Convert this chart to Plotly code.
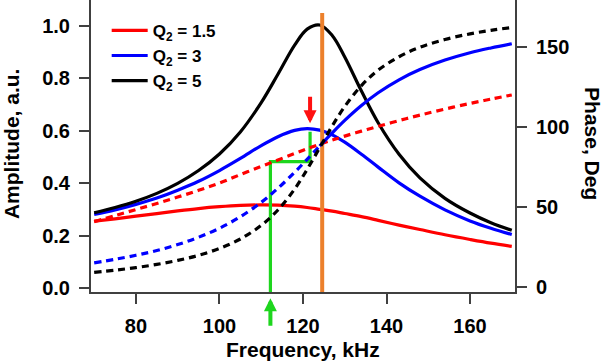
import plotly.graph_objects as go

# ---- data ----
FREQ = [70, 75, 80, 85, 90, 95, 100, 105, 110, 114, 118, 121, 124, 127,
        130, 134, 138, 143, 148, 154, 160, 165, 170]

AMP_Q15 = [0.256, 0.265, 0.275, 0.285, 0.295, 0.304, 0.311, 0.316, 0.318, 0.317,
           0.313, 0.308, 0.301, 0.294, 0.285, 0.273, 0.259, 0.241, 0.224, 0.204,
           0.186, 0.172, 0.160]
AMP_Q3 = [0.282, 0.299, 0.320, 0.344, 0.374, 0.408, 0.449, 0.495, 0.544, 0.578,
          0.602, 0.609, 0.603, 0.585, 0.557, 0.511, 0.462, 0.402, 0.351, 0.299,
          0.257, 0.229, 0.205]
AMP_Q5 = [0.288, 0.308, 0.332, 0.362, 0.400, 0.449, 0.512, 0.596, 0.708, 0.816,
          0.927, 0.988, 1.004, 0.964, 0.882, 0.752, 0.631, 0.511, 0.421, 0.343,
          0.287, 0.250, 0.221]

PH_Q15 = [41.0, 44.8, 48.6, 52.4, 56.4, 60.6, 65.2, 70.4, 75.6, 79.6, 83.6, 86.6,
          89.4, 92.0, 94.5, 97.6, 100.6, 104.2, 107.6, 111.4, 114.9, 117.6, 120.2]
PH_Q3 = [15.3, 17.5, 20.0, 23.0, 26.7, 31.3, 36.9, 44.1, 53.1, 61.9, 71.9, 80.0,
         88.3, 96.5, 104.3, 113.6, 121.6, 129.7, 136.1, 142.0, 146.6, 149.6, 152.2]
PH_Q5 = [9.3, 10.7, 12.3, 14.3, 16.8, 20.0, 24.3, 30.2, 38.7, 48.3, 61.4, 73.7,
         87.2, 100.8, 113.0, 126.1, 135.7, 144.1, 150.0, 154.9, 158.4, 160.6, 162.4]

LABELS = ["Q<sub>2</sub> = 1.5", "Q<sub>2</sub> = 3", "Q<sub>2</sub> = 5"]
COLORS = ["#ff0000", "#0000ff", "#000000"]

# blue phase: dashed below resonance, solid above
BLUE_SPLIT = 124

# markers
ORANGE_F = 124.6
ORANGE_Y = [-0.05, 1.05]
GREEN_F = [112.2, 112.2, 121.7, 121.7]
GREEN_Y = [-0.05, 0.483, 0.483, 0.597]
RED_ARROW = (121.7, 0.629)
GREEN_ARROW_F = 112.2

X_RANGE = [69.24, 170.77]
Y_RANGE = [-0.0141, 1.0991]
Y2_RANGE = [-2.94, 179.56]

FONT = "Liberation Sans"
DASH = "7px,5px"
LW = 3.2

fig = go.Figure()

# dashed phase curves (right axis)
i_split = FREQ.index(BLUE_SPLIT)
fig.add_trace(go.Scatter(x=FREQ, y=PH_Q15, yaxis="y2", mode="lines", showlegend=False,
                         line=dict(color=COLORS[0], width=LW, dash=DASH, shape="spline")))
fig.add_trace(go.Scatter(x=FREQ[:i_split + 1], y=PH_Q3[:i_split + 1], yaxis="y2", mode="lines",
                         showlegend=False,
                         line=dict(color=COLORS[1], width=LW, dash=DASH, shape="spline")))
fig.add_trace(go.Scatter(x=FREQ[i_split:], y=PH_Q3[i_split:], yaxis="y2", mode="lines",
                         showlegend=False,
                         line=dict(color=COLORS[1], width=LW, shape="spline")))
fig.add_trace(go.Scatter(x=FREQ, y=PH_Q5, yaxis="y2", mode="lines", showlegend=False,
                         line=dict(color=COLORS[2], width=LW, dash=DASH, shape="spline")))

# amplitude curves (left axis)
for amp, lab, col in zip([AMP_Q15, AMP_Q3, AMP_Q5], LABELS, COLORS):
    fig.add_trace(go.Scatter(x=FREQ, y=amp, mode="lines", name=lab,
                             line=dict(color=col, width=LW, shape="spline")))

# orange resonance line
fig.add_trace(go.Scatter(x=[ORANGE_F, ORANGE_F], y=ORANGE_Y, mode="lines", showlegend=False,
                         line=dict(color="rgb(236,128,44)", width=4)))
# green step line
fig.add_trace(go.Scatter(x=GREEN_F, y=GREEN_Y, mode="lines", showlegend=False,
                         line=dict(color="rgb(30,214,30)", width=3.2)))

axis_common = dict(showline=True, linecolor="#404040", linewidth=2, ticks="outside",
                   ticklen=10, tickwidth=2, tickcolor="#404040", showgrid=False,
                   zeroline=False, automargin=False,
                   tickfont=dict(family=FONT, size=20, color="#000000", weight="bold"))

fig.update_layout(
    width=605, height=363,
    margin=dict(l=91, r=90, t=0, b=71, autoexpand=False),
    paper_bgcolor="white", plot_bgcolor="white",
    xaxis=dict(range=X_RANGE, tickvals=[80, 100, 120, 140, 160], ticklabelstandoff=5,
               **axis_common),
    yaxis=dict(range=Y_RANGE, tickvals=[0, 0.2, 0.4, 0.6, 0.8, 1.0], tickformat=".1f",
               ticklabelstandoff=5, **axis_common),
    yaxis2=dict(range=Y2_RANGE, overlaying="y", side="right",
                tickvals=[0, 50, 100, 150], ticklabelstandoff=5, **axis_common),
    showlegend=True,
    legend=dict(x=0.037, y=0.956, xanchor="left", yanchor="top", bgcolor="rgba(0,0,0,0)",
                font=dict(family=FONT, size=17, color="#000000", weight="bold"),
                tracegroupgap=0, itemwidth=36),
    annotations=[
        dict(text="Frequency, kHz", xref="paper", yref="paper", x=0.5, y=-0.1986,
             showarrow=False, xanchor="center", yanchor="middle",
             font=dict(family=FONT, size=21, color="#000000", weight="bold")),
        dict(text="Amplitude, a.u.", xref="paper", yref="paper", x=-0.1887, y=0.51,
             showarrow=False, xanchor="center", yanchor="middle", textangle=-90,
             font=dict(family=FONT, size=21, color="#000000", weight="bold")),
        dict(text="Phase, Deg", xref="paper", yref="paper", x=1.184, y=0.51,
             showarrow=False, xanchor="center", yanchor="middle", textangle=90,
             font=dict(family=FONT, size=21, color="#000000", weight="bold")),
        dict(text="", x=RED_ARROW[0], y=RED_ARROW[1], xref="x", yref="y",
             showarrow=True, ax=0, ay=-28, arrowhead=2, arrowsize=0.65, arrowwidth=4,
             arrowcolor="#ff1010"),
        dict(text="", x=GREEN_ARROW_F, y=-0.0216, xref="x", yref="paper",
             showarrow=True, ax=0, ay=29, arrowhead=2, arrowsize=0.65, arrowwidth=4,
             arrowcolor="rgb(30,214,30)"),
    ],
)

fig.write_html("out.html", config={"displayModeBar": False},
               post_script="document.body.style.margin='0';")
